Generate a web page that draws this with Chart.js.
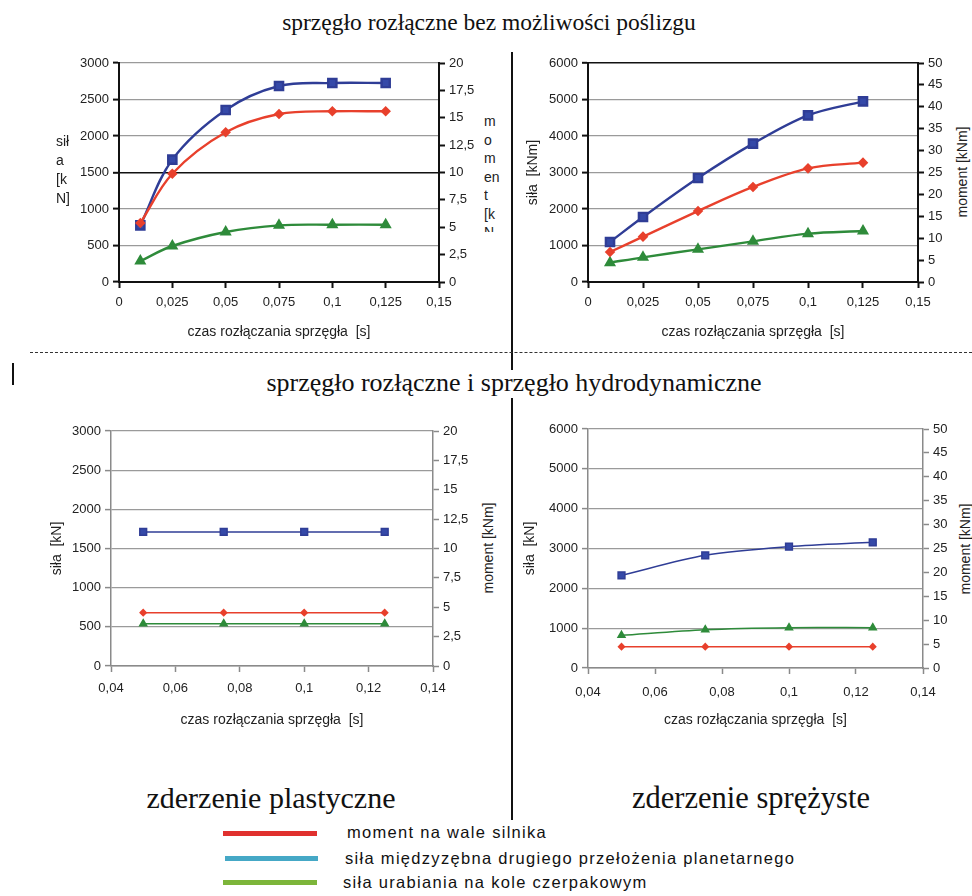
<!DOCTYPE html>
<html><head><meta charset="utf-8">
<script src="https://cdn.jsdelivr.net/npm/chart.js@4.4.1/dist/chart.umd.min.js"></script>
<style>
html,body{margin:0;padding:0;background:#fff;}
body{width:972px;height:896px;position:relative;overflow:hidden;font-family:'Liberation Sans',Arial,sans-serif;color:#1a1a1a;}
canvas{position:absolute;}
.t{position:absolute;white-space:nowrap;}
.serif{font-family:'Liberation Serif','Times New Roman',serif;color:#111;}
.rot{transform:translate(-50%,-50%) rotate(-90deg);font-size:14px;color:#222;}
.stack{font-size:14px;line-height:19px;color:#222;white-space:pre;}
.hline{position:absolute;background:#111;}
.lg{position:absolute;height:5px;}
.lt{position:absolute;font-size:16.5px;letter-spacing:1.3px;color:#111;white-space:nowrap;}
</style></head><body>

<div class="t serif" style="left:489px;top:22px;transform:translate(-50%,-50%);font-size:23.5px;">sprzęgło rozłączne bez możliwości poślizgu</div>
<div class="t serif" style="left:514px;top:383px;transform:translate(-50%,-50%);font-size:26px;">sprzęgło rozłączne i sprzęgło hydrodynamiczne</div>
<div class="t serif" style="left:271px;top:798px;transform:translate(-50%,-50%);font-size:30px;">zderzenie plastyczne</div>
<div class="t serif" style="left:751px;top:798px;transform:translate(-50%,-50%);font-size:30.5px;">zderzenie sprężyste</div>

<div class="hline" style="left:511px;top:52px;width:1.5px;height:318px;"></div>
<div class="hline" style="left:511px;top:398px;width:1.5px;height:422px;"></div>
<div style="position:absolute;left:30px;top:352px;width:942px;height:0;border-top:1px dashed #333;"></div>
<div class="hline" style="left:12px;top:363px;width:2px;height:22px;"></div>

<canvas id="cA" width="440" height="300" style="left:40px;top:45px;"></canvas>
<canvas id="cB" width="430" height="300" style="left:520px;top:45px;"></canvas>
<canvas id="cC" width="431" height="316" style="left:44px;top:415px;"></canvas>
<canvas id="cD" width="433" height="318" style="left:517px;top:413px;"></canvas>

<div class="t stack" style="left:56px;top:132px;">sił
a
[k
N]</div>
<div class="t stack" style="left:484px;top:112px;line-height:18.5px;height:120px;overflow:hidden;">m
o
m
en
t
[k
N</div>
<div class="t rot" style="left:962px;top:172px;">moment  [kNm]</div>
<div class="t rot" style="left:488px;top:548px;">moment  [kNm]</div>
<div class="t rot" style="left:965px;top:549px;">moment  [kNm]</div>

<div class="lg" style="left:223px;top:831px;width:94px;background:#e0302e;"></div>
<div class="lg" style="left:225px;top:856px;width:93px;background:#45a8c6;"></div>
<div class="lg" style="left:223px;top:880px;width:94px;background:#7cb53a;"></div>
<div class="lt" style="left:347px;top:823px;">moment na wale silnika</div>
<div class="lt" style="left:345px;top:849px;">siła międzyzębna drugiego przełożenia planetarnego</div>
<div class="lt" style="left:343px;top:873px;">siła urabiania na kole czerpakowym</div>

<script>
// ---- data ----
const timesTop = [0.01, 0.025, 0.05, 0.075, 0.1, 0.125];
const silaMiedzyzebnaA = [776, 1676, 2356, 2685, 2726, 2726];
const momentA = [5.39, 9.89, 13.67, 15.34, 15.59, 15.59];
const silaUrabianiaA = [288, 493, 685, 776, 785, 785];

const silaMiedzyzebnaB = [1096, 1781, 2849, 3790, 4566, 4950];
const momentB = [6.85, 10.35, 16.2, 21.7, 25.95, 27.25];
const silaUrabianiaB = [530, 676, 895, 1114, 1324, 1397];

const timesBottom = [0.05, 0.075, 0.1, 0.125];
const silaMiedzyzebnaC = [1711, 1711, 1711, 1711];
const momentC = [4.54, 4.54, 4.54, 4.54];
const silaUrabianiaC = [540, 540, 540, 540];

const silaMiedzyzebnaD = [2326, 2828, 3046, 3155];
const momentD = [4.46, 4.46, 4.46, 4.46];
const silaUrabianiaD = [820, 962, 1013, 1013];

const xTitle = 'czas rozłączania sprzęgła  [s]';
const labelMoment = 'moment na wale silnika';
const labelMiedzyzebna = 'siła międzyzębna drugiego przełożenia planetarnego';
const labelUrabiania = 'siła urabiania na kole czerpakowym';

// ---- helpers ----
const FAM = "'Liberation Sans', Arial, sans-serif";
const fmt = v => String(Math.round(v * 1000) / 1000).replace('.', ',');
const pts = (xs, ys) => xs.map((x, i) => ({x: x, y: ys[i]}));

function makeChart(id, o) {
  const heavy = o.heavy;
  const axisColor = heavy ? '#111' : '#8a8a8a';
  const axisW = heavy ? 2 : 1.5;
  const lw = heavy ? 2.4 : 1.5;
  const blue = '#2f3d96', blueM = '#3549a8', red = '#e8402c', green = '#2e8b3a';
  const ds = [
    {label: labelMoment, data: pts(o.xs, o.red), yAxisID: 'y1', borderColor: red, backgroundColor: red,
     borderWidth: lw, pointStyle: 'rectRot', pointRadius: heavy ? 3.6 : 3, tension: o.tension, order: 1},
    {label: labelUrabiania, data: pts(o.xs, o.green), yAxisID: 'y', borderColor: green, backgroundColor: green,
     borderWidth: lw, pointStyle: 'triangle', pointRadius: heavy ? 4.6 : 4, tension: o.tension, order: 2},
    {label: labelMiedzyzebna, data: pts(o.xs, o.blue), yAxisID: 'y', borderColor: blue, backgroundColor: blueM,
     borderWidth: lw, pointStyle: 'rect', pointRadius: heavy ? 5.8 : 4.8, tension: o.tension, order: 3}
  ];
  const tickFont = {family: FAM, size: 13};
  return new Chart(document.getElementById(id), {
    type: 'line',
    data: {datasets: ds},
    options: {
      responsive: false, animation: false, devicePixelRatio: 1,
      layout: {padding: {top: o.padTop, left: 0, right: 0, bottom: 0}},
      plugins: {legend: {display: false}, tooltip: {enabled: false}},
      scales: {
        x: {
          type: 'linear', position: 'bottom', min: o.xMin, max: o.xMax,
          ticks: {stepSize: o.xStep, callback: fmt, font: tickFont, color: '#222', padding: o.xPad, maxRotation: 0, autoSkip: false},
          grid: {drawOnChartArea: false, drawTicks: true, tickLength: 6, tickColor: axisColor, tickWidth: axisW},
          border: {color: axisColor, width: axisW},
          title: {display: true, text: xTitle, font: {family: FAM, size: 14}, color: '#222', padding: {top: 0, bottom: o.xTitlePad}},
          afterFit: s => { s.height = o.xH; }
        },
        y: {
          position: 'left', min: 0, max: o.yMax,
          ticks: {stepSize: o.yStep, callback: fmt, font: tickFont, color: '#222', padding: 4},
          grid: {color: c => (o.darkLine !== undefined && c.tick && c.tick.value === o.darkLine) ? '#111' : '#9a9a9a',
                 lineWidth: c => (o.darkLine !== undefined && c.tick && c.tick.value === o.darkLine) ? 1.6 : 1.2,
                 drawTicks: true, tickLength: 6, tickColor: axisColor, tickWidth: axisW},
          border: {color: axisColor, width: axisW},
          title: {display: !!o.yTitle, text: o.yTitle || '', font: {family: FAM, size: 14}, color: '#222', padding: {top: o.yTitlePad || 0, bottom: 0}},
          afterFit: s => { s.width = o.leftW; }
        },
        y1: {
          position: 'right', min: 0, max: o.y1Max,
          ticks: {stepSize: o.y1Step, callback: fmt, font: tickFont, color: '#222', padding: 4},
          grid: {drawOnChartArea: false, drawTicks: true, tickLength: 6, tickColor: axisColor, tickWidth: axisW},
          border: {color: axisColor, width: axisW},
          afterFit: s => { s.width = o.rightW; }
        }
      }
    }
  });
}

makeChart('cA', {heavy: true, xs: timesTop, blue: silaMiedzyzebnaA, red: momentA, green: silaUrabianiaA, tension: 0.35,
  xMin: 0, xMax: 0.15, xStep: 0.025, yMax: 3000, yStep: 500, y1Max: 20, y1Step: 2.5, darkLine: 1500,
  padTop: 18, leftW: 79, rightW: 41, xH: 63, xPad: 7, xTitlePad: 4.5});
makeChart('cB', {heavy: true, xs: timesTop, blue: silaMiedzyzebnaB, red: momentB, green: silaUrabianiaB, tension: 0.35,
  xMin: 0, xMax: 0.15, xStep: 0.025, yMax: 6000, yStep: 1000, y1Max: 50, y1Step: 5, darkLine: 6000,
  yTitle: 'siła  [kNm]', yTitlePad: 4.6,
  padTop: 18, leftW: 68, rightW: 32, xH: 63, xPad: 7, xTitlePad: 4.5});
makeChart('cC', {heavy: false, xs: timesBottom, blue: silaMiedzyzebnaC, red: momentC, green: silaUrabianiaC, tension: 0,
  xMin: 0.04, xMax: 0.14, xStep: 0.02, yMax: 3000, yStep: 500, y1Max: 20, y1Step: 2.5,
  yTitle: 'siła  [kN]', yTitlePad: 4.6,
  padTop: 16, leftW: 67, rightW: 42, xH: 65, xPad: 9, xTitlePad: 2.6});
makeChart('cD', {heavy: false, xs: timesBottom, blue: silaMiedzyzebnaD, red: momentD, green: silaUrabianiaD, tension: 0.3,
  xMin: 0.04, xMax: 0.14, xStep: 0.02, yMax: 6000, yStep: 1000, y1Max: 50, y1Step: 5,
  yTitle: 'siła  [kN]', yTitlePad: 4.6,
  padTop: 16, leftW: 71, rightW: 27, xH: 63, xPad: 11, xTitlePad: 2.6});
</script>
</body></html>
